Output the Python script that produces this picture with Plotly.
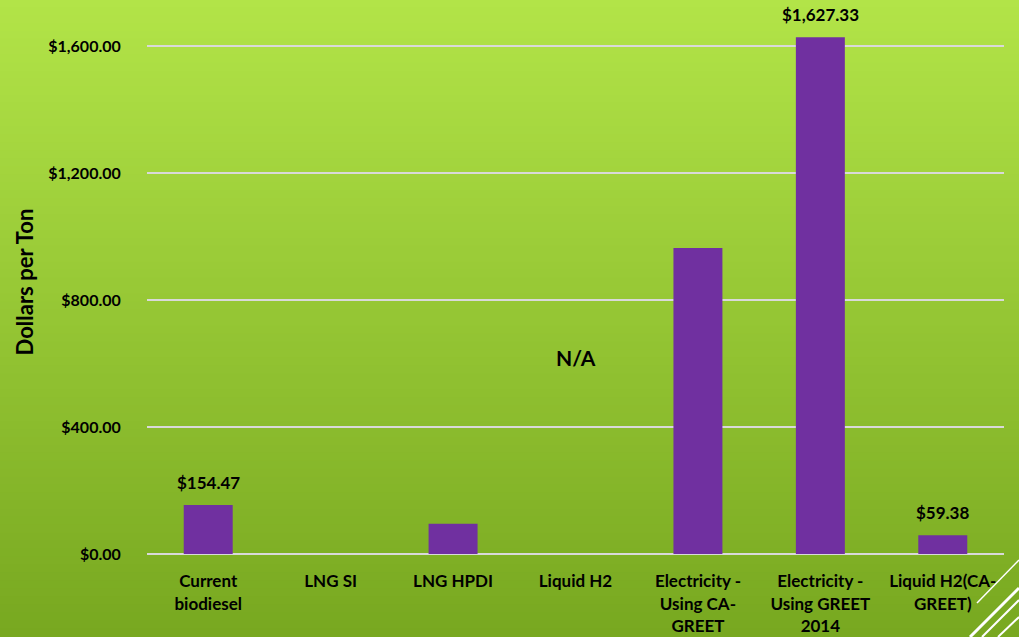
import plotly.graph_objects as go

# Cost per ton of CO2 reduced, by technology
categories = ["Current<br>biodiesel", "LNG SI", "LNG HPDI", "Liquid H2",
              "Electricity -<br>Using CA-<br>GREET", "Electricity -<br>Using GREET<br>2014",
              "Liquid H2(CA-<br>GREET)"]
values = [154.47, -7, 95, -7, 964, 1627.33, 59.38]
value_labels = ["$154.47", "", "", "", "", "$1,627.33", "$59.38"]
tick_values = [0, 400, 800, 1200, 1600]
tick_labels = ["$0.00", "$400.00", "$800.00", "$1,200.00", "$1,600.00"]

W, H = 1019, 637
ML, MR, MT, MB = 147, 15, 10, 83
FONT = "Lato"

fig = go.Figure()
fig.add_trace(go.Bar(
    x=categories, y=values,
    marker=dict(color="#7030a0", line=dict(width=0)),
    width=0.4,
))

# value labels above the labelled bars
annotations = []
for cat, val, lab in zip(categories, values, value_labels):
    if lab:
        annotations.append(dict(x=cat, y=val, xref="x", yref="y", text="<b>%s</b>" % lab,
                                showarrow=False, yanchor="bottom", yshift=10,
                                font=dict(family=FONT, size=17, color="#000000")))
annotations.append(dict(x=categories[3], y=620, xref="x", yref="y", text="<b>N/A</b>",
                        showarrow=False, font=dict(family=FONT, size=21, color="#000000")))

# vertical gradient background drawn as thin horizontal strips
pw = W - ML - MR
ph = H - MT - MB
def px_to_paper(px, py):
    return (px - ML) / pw, (H - MB - py) / ph

top = (178, 228, 72)
bot = (120, 168, 32)
shapes = []
n = 80
for i in range(n):
    t = i / (n - 1)
    c = tuple(round(top[k] + (bot[k] - top[k]) * t) for k in range(3))
    y0 = H * i / n - 1
    y1 = H * (i + 1) / n + 1
    x0p, y0p = px_to_paper(-2, y0)
    x1p, y1p = px_to_paper(W + 2, y1)
    shapes.append(dict(type="rect", xref="paper", yref="paper", x0=x0p, x1=x1p,
                       y0=y1p, y1=y0p, fillcolor="rgb(%d,%d,%d)" % c,
                       line=dict(width=0), layer="below"))

# decorative diagonal strokes in the lower-right corner
for (ax, ay, bx, by, w) in [(977, 603, 1019, 560, 1.5), (970, 637, 1019, 588, 3),
                            (982, 637, 1019, 600, 2), (998, 637, 1019, 617, 2)]:
    p0 = px_to_paper(ax, ay)
    p1 = px_to_paper(bx, by)
    shapes.append(dict(type="line", xref="paper", yref="paper", x0=p0[0], y0=p0[1],
                       x1=p1[0], y1=p1[1], line=dict(color="white", width=w), layer="above"))

fig.update_layout(
    width=W, height=H,
    margin=dict(l=ML, r=MR, t=MT, b=MB),
    paper_bgcolor="rgb(120,168,32)", plot_bgcolor="rgba(0,0,0,0)",
    shapes=shapes, showlegend=False, bargap=0.6,
    annotations=annotations,
    font=dict(family=FONT, color="#000000"),
)
fig.update_xaxes(tickfont=dict(family=FONT, size=17, color="#000000"),
                 showgrid=False, zeroline=False, showline=False, automargin=False,
                 ticks="outside", ticklen=12, tickcolor="rgba(0,0,0,0)",
                 tickprefix="<b>", ticksuffix="</b>")
fig.update_yaxes(range=[0, ph / 0.3175], tickvals=tick_values, ticktext=["<b>%s</b>" % s for s in tick_labels],
                 tickfont=dict(family=FONT, size=16, color="#000000"), automargin=False,
                 showgrid=True, gridcolor="#d9d9d9", gridwidth=1.5,
                 zeroline=True, zerolinecolor="#d9d9d9", zerolinewidth=1.5,
                 ticklen=22, ticks="outside", tickcolor="rgba(0,0,0,0)",
                 title=dict(text="<b>Dollars per Ton</b>", font=dict(family=FONT, size=22, color="#000000"),
                            standoff=8))

fig.write_html("out.html")
